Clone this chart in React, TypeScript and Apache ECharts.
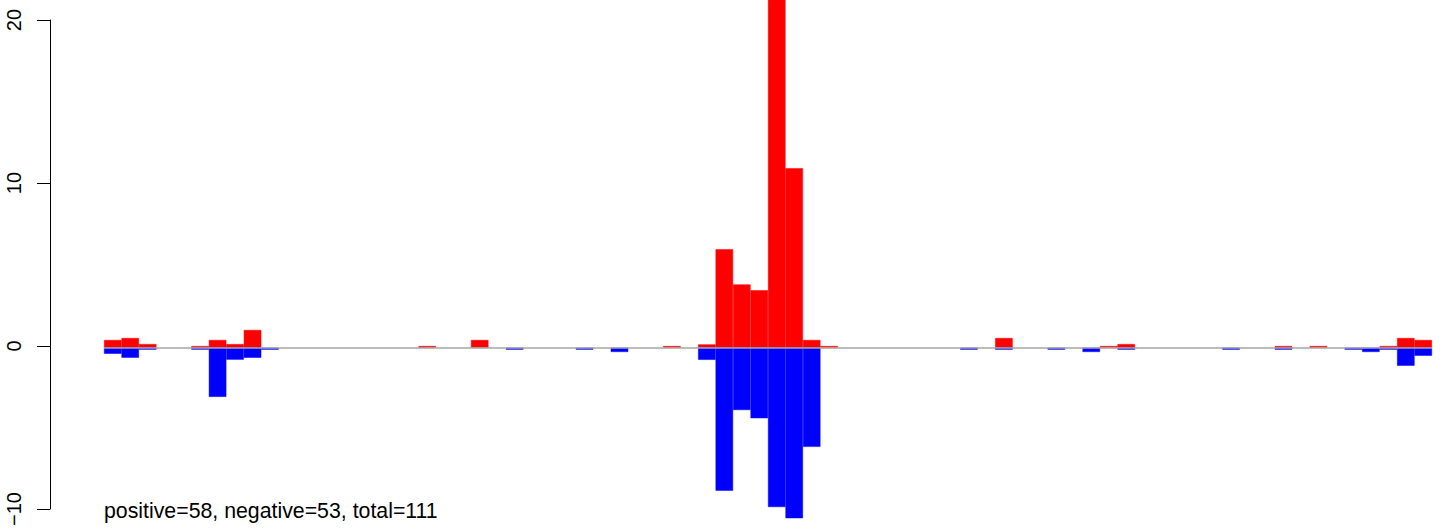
import React, { useEffect, useRef } from "react";
import * as echarts from "echarts";

// 76 bins along the x direction
const binLabels: string[] = Array.from({ length: 76 }, (_, i) => String(i + 1));

// Height of red (positive) bars per bin
const positiveValues: number[] = [
  0.47, 0.59, 0.22, 0, 0, 0.1, 0.47, 0.22, 1.08, 0,
  0, 0, 0, 0, 0, 0, 0, 0, 0.1, 0,
  0, 0.47, 0, 0, 0, 0, 0, 0, 0, 0,
  0, 0, 0.1, 0, 0.2, 6.0, 3.86, 3.5, 24, 10.95,
  0.47, 0.1, 0, 0, 0, 0, 0, 0, 0, 0,
  0, 0.59, 0, 0, 0, 0, 0, 0.1, 0.22, 0,
  0, 0, 0, 0, 0, 0, 0, 0.1, 0, 0.1,
  0, 0, 0, 0.1, 0.59, 0.47,
];

// Depth of blue (negative) bars per bin
const negativeValues: number[] = [
  -0.37, -0.61, -0.12, 0, 0, -0.12, -3.0, -0.73, -0.61, -0.12,
  0, 0, 0, 0, 0, 0, 0, 0, 0, 0,
  0, 0, 0, -0.12, 0, 0, 0, -0.12, 0, -0.26,
  0, 0, 0, 0, -0.74, -8.72, -3.8, -4.3, -9.72, -10.4,
  -6.05, 0, 0, 0, 0, 0, 0, 0, 0, -0.12,
  0, -0.12, 0, 0, -0.12, 0, -0.26, 0, -0.12, 0,
  0, 0, 0, 0, -0.12, 0, 0, -0.12, 0, 0,
  0, -0.12, -0.26, -0.12, -1.1, -0.49,
];

const yTickMin = -10;
const yTickMax = 20;
const yTickStep = 10;

const summaryText = "positive=58, negative=53, total=111";

const FONT = '"Liberation Sans", Arial, Helvetica, sans-serif';

const toBarData = (vals: number[]) => vals.map((v) => (v === 0 ? "-" : v));

export default function App() {
  const ref = useRef<HTMLDivElement>(null);

  useEffect(() => {
    if (!ref.current) return;
    const chart = echarts.init(ref.current, null, { renderer: "svg" });
    chart.setOption({
      animation: false,
      backgroundColor: "#ffffff",
      grid: [
        { left: 104, right: 9, top: 0, bottom: 0 },
        { left: 50, width: 1, top: 20, bottom: 17.3 },
      ],
      xAxis: [
        {
          gridIndex: 0,
          type: "category",
          data: binLabels,
          boundaryGap: true,
          show: false,
        },
        {
          gridIndex: 1,
          type: "value",
          min: 0,
          max: 1,
          show: false,
        },
      ],
      yAxis: [
        {
          gridIndex: 0,
          type: "value",
          min: -11.06,
          max: 21.21,
          show: false,
          splitLine: { show: false },
        },
        {
          gridIndex: 1,
          type: "value",
          min: yTickMin,
          max: yTickMax,
          interval: yTickStep,
          position: "left",
          axisLine: { show: true, lineStyle: { color: "#000", width: 1 } },
          axisTick: { show: true, length: 13, lineStyle: { color: "#000", width: 1 } },
          axisLabel: {
            show: true,
            rotate: 90,
            margin: 26,
            fontSize: 20,
            fontFamily: FONT,
            color: "#000",
            formatter: (v: number) => String(v).replace("-", "\u2212"),
          },
          splitLine: { show: false },
        },
      ],
      series: [
        {
          type: "line",
          xAxisIndex: 0,
          yAxisIndex: 0,
          data: [],
          z: 1,
          silent: true,
          markLine: {
            silent: true,
            symbol: "none",
            label: { show: false },
            lineStyle: { color: "#a6a6a6", width: 1.5, type: "solid" },
            data: [{ yAxis: 0 }],
          },
        },
        {
          type: "bar",
          name: "positive",
          xAxisIndex: 0,
          yAxisIndex: 0,
          data: toBarData(positiveValues),
          barCategoryGap: "0%",
          barGap: "-100%",
          itemStyle: { color: "#ff0000", borderColor: "#ff0000", borderWidth: 0.5 },
          z: 2,
        },
        {
          type: "bar",
          name: "negative",
          xAxisIndex: 0,
          yAxisIndex: 0,
          data: toBarData(negativeValues),
          barCategoryGap: "0%",
          barGap: "-100%",
          itemStyle: { color: "#0000ff", borderColor: "#0000ff", borderWidth: 0.5 },
          z: 2,
        },
        {
          type: "line",
          xAxisIndex: 1,
          yAxisIndex: 1,
          data: [],
        },
      ],
      graphic: [
        {
          type: "text",
          left: 104,
          top: 500,
          style: {
            text: summaryText,
            fontSize: 21.3,
            fontFamily: FONT,
            fill: "#000",
          },
        },
      ],
    });
    return () => chart.dispose();
  }, []);

  return (
    <div
      ref={ref}
      style={{ position: "fixed", left: 0, top: 0, width: 1441, height: 529 }}
    />
  );
}
